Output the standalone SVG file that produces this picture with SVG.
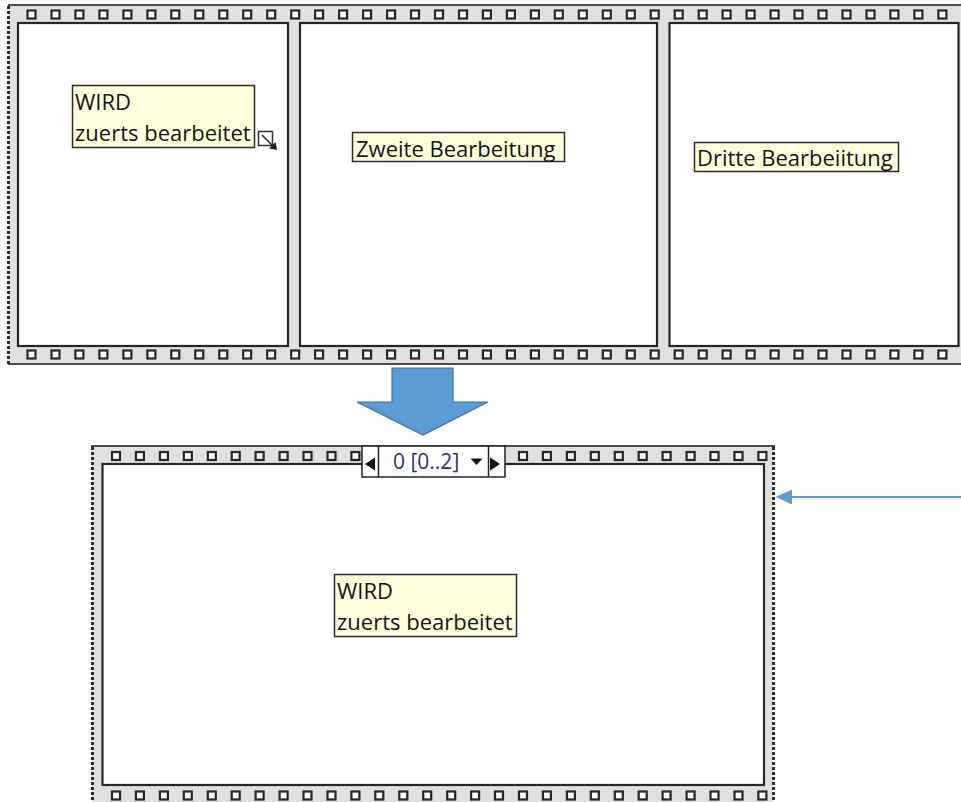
<svg xmlns="http://www.w3.org/2000/svg" xmlns:xlink="http://www.w3.org/1999/xlink" width="961" height="802" viewBox="0 0 961 802">
  <defs>
    <style>
      .band{fill:#e0e0e0}
      .edge{stroke:#4a4a4a;stroke-width:2;fill:none}
      .frame{fill:#fff;stroke:#262626;stroke-width:2.2}
      .serration{stroke:#2e2e2e;stroke-width:3;stroke-dasharray:3 2;fill:none}
      .label rect{fill:#ffffdc;stroke:#2a2a2a;stroke-width:1.5}
      .label text{font-family:"Open Sans","DejaVu Sans",sans-serif;font-size:22px;fill:#141414}
      .sel rect{fill:#fff;stroke:#222;stroke-width:1.5}
      .sel line{stroke:#222;stroke-width:1.5}
      .sel polygon{fill:#111}
      .sel text{font-family:"Open Sans","DejaVu Sans",sans-serif;font-size:21px;fill:#22367f}
      .link{stroke:#5b9bd5;stroke-width:2;fill:none}
    </style>
    <!-- sprocket hole -->
    <rect id="sq" x="0.5" y="0.5" width="8" height="8" fill="#fff" stroke="#262626" stroke-width="2.2"/>
    <!-- row of holes along the flat sequence -->
    <g id="row-flat">
      <use href="#sq" x="27"/><use href="#sq" x="51"/><use href="#sq" x="74.9"/><use href="#sq" x="98.9"/>
      <use href="#sq" x="122.9"/><use href="#sq" x="146.9"/><use href="#sq" x="170.8"/><use href="#sq" x="194.8"/>
      <use href="#sq" x="218.8"/><use href="#sq" x="242.7"/><use href="#sq" x="266.7"/><use href="#sq" x="290.7"/>
      <use href="#sq" x="314.6"/><use href="#sq" x="338.6"/><use href="#sq" x="362.6"/><use href="#sq" x="386.6"/>
      <use href="#sq" x="410.5"/><use href="#sq" x="434.5"/><use href="#sq" x="458.5"/><use href="#sq" x="482.4"/>
      <use href="#sq" x="506.4"/><use href="#sq" x="530.4"/><use href="#sq" x="554.3"/><use href="#sq" x="578.3"/>
      <use href="#sq" x="602.3"/><use href="#sq" x="626.3"/><use href="#sq" x="650.2"/><use href="#sq" x="674.2"/>
      <use href="#sq" x="698.2"/><use href="#sq" x="722.1"/><use href="#sq" x="746.1"/><use href="#sq" x="770.1"/>
      <use href="#sq" x="794"/><use href="#sq" x="818"/><use href="#sq" x="842"/><use href="#sq" x="866"/>
      <use href="#sq" x="889.9"/><use href="#sq" x="913.9"/><use href="#sq" x="937.9"/>
    </g>
    <!-- row of holes along the stacked sequence -->
    <g id="row-stacked">
      <use href="#sq" x="111.5"/><use href="#sq" x="135.4"/><use href="#sq" x="159.4"/><use href="#sq" x="183.3"/>
      <use href="#sq" x="207.3"/><use href="#sq" x="231.2"/><use href="#sq" x="255.1"/><use href="#sq" x="279.1"/>
      <use href="#sq" x="303"/><use href="#sq" x="327"/><use href="#sq" x="350.9"/><use href="#sq" x="374.8"/>
      <use href="#sq" x="398.8"/><use href="#sq" x="422.7"/><use href="#sq" x="446.7"/><use href="#sq" x="470.6"/>
      <use href="#sq" x="494.5"/><use href="#sq" x="518.5"/><use href="#sq" x="542.4"/><use href="#sq" x="566.4"/>
      <use href="#sq" x="590.3"/><use href="#sq" x="614.3"/><use href="#sq" x="638.2"/><use href="#sq" x="662.1"/>
      <use href="#sq" x="686.1"/><use href="#sq" x="710"/><use href="#sq" x="734"/><use href="#sq" x="757.9"/>
    </g>
    <marker id="head" markerUnits="userSpaceOnUse" markerWidth="17" markerHeight="16" refX="12" refY="8" orient="auto">
      <path d="M0,0.5 L16.5,8 L0,15.5 Z" fill="#5b9bd5"/>
    </marker>
  </defs>

  <!-- flat sequence with three frames -->
  <g id="flat-sequence">
    <rect class="band" x="9" y="5" width="952" height="359"/>
    <line class="edge" x1="8" y1="5" x2="961" y2="5"/>
    <line class="edge" x1="8" y1="364" x2="961" y2="364"/>
    <line class="serration" x1="8.5" y1="6" x2="8.5" y2="364"/>
    <use href="#row-flat" y="10"/>
    <use href="#row-flat" y="350"/>
  </g>

  <g id="frame-1">
    <rect class="frame" x="18" y="23" width="270" height="323"/>
  </g>
  <g id="frame-2">
    <rect class="frame" x="300" y="23" width="357" height="323"/>
  </g>
  <g id="frame-3">
    <rect class="frame" x="669.5" y="23" width="289" height="323"/>
  </g>

  <g id="label-1" class="label">
    <rect x="72.5" y="85.5" width="182" height="62"/>
    <text x="75" y="110">WIRD</text>
    <text x="75" y="141">zuerts bearbeitet</text>
  </g>
  <g id="resize-handle">
    <rect x="258.5" y="131.5" width="14" height="14" fill="#fff" stroke="#333" stroke-width="1.5"/>
    <line x1="262" y1="135" x2="273" y2="146" stroke="#222" stroke-width="1.5"/>
    <polygon points="277,150 269,148.5 275.5,142" fill="#222"/>
  </g>

  <g id="label-2" class="label">
    <rect x="352.5" y="132.5" width="212" height="29"/>
    <text x="356" y="157">Zweite Bearbeitung</text>
  </g>

  <g id="label-3" class="label">
    <rect x="694.5" y="142.5" width="204" height="29"/>
    <text x="697" y="166">Dritte Bearbeiitung</text>
  </g>

  <!-- stacked sequence -->
  <g id="stacked-sequence">
    <rect class="band" x="92" y="446" width="681" height="356"/>
    <line class="edge" x1="91" y1="446" x2="775" y2="446"/>
    <line class="serration" x1="92.5" y1="447" x2="92.5" y2="802"/>
    <line class="serration" x1="773.5" y1="447" x2="773.5" y2="802"/>
    <use href="#row-stacked" y="451.5"/>
    <use href="#row-stacked" y="791"/>
    <rect class="frame" x="102.5" y="464" width="661.5" height="321"/>
  </g>

  <g id="case-selector" class="sel">
    <rect x="362" y="446" width="143" height="31"/>
    <line x1="378.5" y1="446" x2="378.5" y2="477"/>
    <line x1="488.5" y1="446" x2="488.5" y2="477"/>
    <polygon points="365,464 375,457.5 375,470.5"/>
    <polygon points="500,464 490,457.5 490,470.5"/>
    <polygon points="470.5,458.5 482.5,458.5 476.5,465"/>
    <text x="393" y="468.5">0 [0..2]</text>
  </g>

  <g id="label-4" class="label">
    <rect x="334.5" y="574.5" width="182" height="62"/>
    <text x="337" y="599">WIRD</text>
    <text x="337" y="630">zuerts bearbeitet</text>
  </g>

  <g id="connectors">
    <polygon points="392,368 453,368 453,402 488,402 423,435 357,402 392,402" fill="#5b9bd5" stroke="#41719c" stroke-width="1.2"/>
    <line class="link" x1="961" y1="497" x2="780" y2="497" marker-end="url(#head)"/>
  </g>
</svg>
